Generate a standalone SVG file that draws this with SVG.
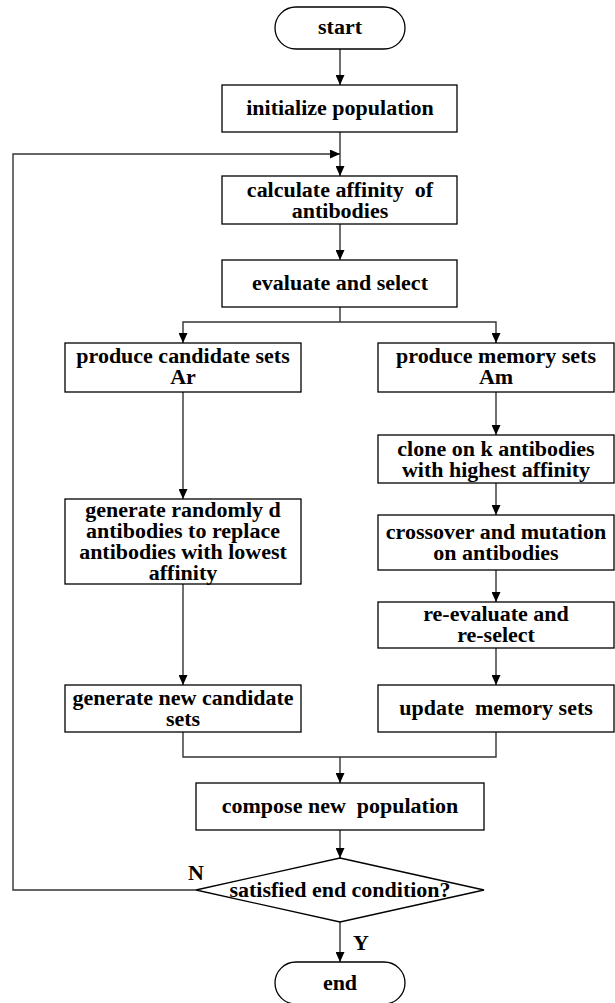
<svg xmlns="http://www.w3.org/2000/svg" width="615" height="1003" viewBox="0 0 615 1003">
<style>
.box{fill:#fff;stroke:#000;stroke-width:1.3}
.ln{fill:none;stroke:#333;stroke-width:1.4}
.t{font-family:"Liberation Serif","Times New Roman",serif;font-weight:bold;font-size:20px;text-anchor:middle;fill:#000;white-space:pre}
</style>
<defs>
<marker id="ah" markerUnits="userSpaceOnUse" markerWidth="10" markerHeight="9" refX="10" refY="4.5" orient="auto">
<path d="M0,0 L10,4.5 L0,9 z" fill="#000"/>
</marker>
</defs>
<g id="connectors">
<line class="ln" x1="340" y1="49" x2="340" y2="85" marker-end="url(#ah)"/>
<line class="ln" x1="340" y1="132" x2="340" y2="176" marker-end="url(#ah)"/>
<polyline class="ln" points="196,890 13,890 13,154 340,154" marker-end="url(#ah)"/>
<line class="ln" x1="340" y1="224" x2="340" y2="260" marker-end="url(#ah)"/>
<line class="ln" x1="340" y1="307" x2="340" y2="322"/>
<polyline class="ln" points="340,322 183,322 183,343" marker-end="url(#ah)"/>
<polyline class="ln" points="340,322 496,322 496,343" marker-end="url(#ah)"/>
<line class="ln" x1="183" y1="392" x2="183" y2="499" marker-end="url(#ah)"/>
<line class="ln" x1="496" y1="392" x2="496" y2="435" marker-end="url(#ah)"/>
<line class="ln" x1="496" y1="483" x2="496" y2="515" marker-end="url(#ah)"/>
<line class="ln" x1="496" y1="570" x2="496" y2="602" marker-end="url(#ah)"/>
<line class="ln" x1="496" y1="648" x2="496" y2="685" marker-end="url(#ah)"/>
<line class="ln" x1="183" y1="584" x2="183" y2="685" marker-end="url(#ah)"/>
<polyline class="ln" points="183,732 183,757 496,757 496,732"/>
<line class="ln" x1="340" y1="757" x2="340" y2="783" marker-end="url(#ah)"/>
<line class="ln" x1="340" y1="830" x2="340" y2="858" marker-end="url(#ah)"/>
<line class="ln" x1="340" y1="922" x2="340" y2="962" marker-end="url(#ah)"/>
<text class="t" transform="translate(196 880) scale(1.1 1)">N</text>
<text class="t" transform="translate(361 950) scale(1.1 1)">Y</text>
</g>
<g id="start">
<rect class="box" x="275" y="7" width="130" height="42" rx="21" ry="21"/>
<text class="t" transform="translate(340 34) scale(1.1 1)">start</text>
</g>
<g id="init">
<rect class="box" x="222" y="85" width="235" height="47"/>
<text class="t" transform="translate(340 115) scale(1.1 1)">initialize population</text>
</g>
<g id="calc">
<rect class="box" x="222" y="176" width="235" height="48"/>
<text class="t" xml:space="preserve" transform="translate(340 197) scale(1.1 1)">calculate affinity  of</text>
<text class="t" transform="translate(340 218) scale(1.1 1)">antibodies</text>
</g>
<g id="evaluate">
<rect class="box" x="222" y="260" width="235" height="47"/>
<text class="t" transform="translate(340 290) scale(1.1 1)">evaluate and select</text>
</g>
<g id="candidate">
<rect class="box" x="65" y="343" width="236" height="49"/>
<text class="t" transform="translate(183 363) scale(1.1 1)">produce candidate sets</text>
<text class="t" transform="translate(183 384) scale(1.1 1)">Ar</text>
</g>
<g id="memory">
<rect class="box" x="378" y="343" width="236" height="49"/>
<text class="t" transform="translate(496 363) scale(1.1 1)">produce memory sets</text>
<text class="t" transform="translate(496 384) scale(1.1 1)">Am</text>
</g>
<g id="generate">
<rect class="box" x="65" y="499" width="236" height="85"/>
<text class="t" transform="translate(183 517) scale(1.1 1)">generate randomly d</text>
<text class="t" transform="translate(183 538) scale(1.1 1)">antibodies to replace</text>
<text class="t" transform="translate(183 559) scale(1.1 1)">antibodies with lowest</text>
<text class="t" transform="translate(183 580) scale(1.1 1)">affinity</text>
</g>
<g id="clone">
<rect class="box" x="378" y="435" width="236" height="48"/>
<text class="t" transform="translate(496 456) scale(1.1 1)">clone on k antibodies</text>
<text class="t" transform="translate(496 477) scale(1.1 1)">with highest affinity</text>
</g>
<g id="crossover">
<rect class="box" x="378" y="515" width="236" height="55"/>
<text class="t" transform="translate(496 539) scale(1.1 1)">crossover and mutation</text>
<text class="t" transform="translate(496 560) scale(1.1 1)">on antibodies</text>
</g>
<g id="reevaluate">
<rect class="box" x="378" y="602" width="236" height="46"/>
<text class="t" transform="translate(496 621) scale(1.1 1)">re-evaluate and</text>
<text class="t" transform="translate(496 642) scale(1.1 1)">re-select</text>
</g>
<g id="newcandidate">
<rect class="box" x="65" y="685" width="236" height="47"/>
<text class="t" transform="translate(183 705) scale(1.1 1)">generate new candidate</text>
<text class="t" transform="translate(183 726) scale(1.1 1)">sets</text>
</g>
<g id="update">
<rect class="box" x="378" y="685" width="236" height="47"/>
<text class="t" xml:space="preserve" transform="translate(496 715) scale(1.1 1)">update  memory sets</text>
</g>
<g id="compose">
<rect class="box" x="196" y="783" width="288" height="47"/>
<text class="t" xml:space="preserve" transform="translate(340 813) scale(1.1 1)">compose new  population</text>
</g>
<g id="decision">
<polygon class="box" points="340,858 484,890 340,922 196,890"/>
<text class="t" transform="translate(340 897) scale(1.1 1)">satisfied end condition?</text>
</g>
<g id="end">
<rect class="box" x="275" y="962" width="130" height="42" rx="21" ry="21"/>
<text class="t" transform="translate(340 990) scale(1.1 1)">end</text>
</g>
</svg>
